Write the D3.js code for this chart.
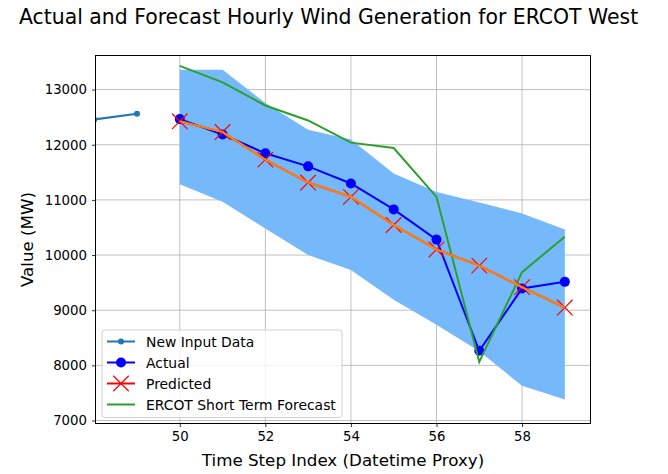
<!DOCTYPE html>
<html>
<head>
<meta charset="utf-8">
<script src="https://cdn.jsdelivr.net/npm/d3@7"></script>
<style>
	body { margin: 0; background: #fff; }
	text { font-family: "DejaVu Sans", sans-serif; fill: #000; }
</style>
</head>
<body>
<svg id="chart"></svg>
<script>
// data
const inputSteps = [48, 49];
const inputValues = [12458, 12563];

const steps = [50, 51, 52, 53, 54, 55, 56, 57, 58, 59];
const actualValues = [12465, 12185, 11845, 11608, 11298, 10828, 10280, 8265, 9395, 9514];
const predictedValues = [12425, 12230, 11730, 11315, 11055, 10545, 10102, 9808, 9418, 9048];
const ercotValues = [13430, 13132, 12712, 12440, 12038, 11940, 11055, 8062, 9690, 10332];
const bandUpper = [13358, 13358, 12755, 12272, 12095, 11478, 11145, 10955, 10755, 10465];
const bandLower = [11285, 10965, 10482, 10002, 9730, 9188, 8736, 8255, 7632, 7380];

const xTicks = [50, 52, 54, 56, 58];
const yTicks = [7000, 8000, 9000, 10000, 11000, 12000, 13000];

const width = 668,
	height = 474;
const margin = { top: 55.5, right: 77.5, bottom: 50.5, left: 95.5 };

const svg = d3.select("#chart").attr("width", width).attr("height", height);

const x = d3.scaleLinear().domain([48.03, 59.6]).range([margin.left, width - margin.right]);
const y = d3.scaleLinear().domain([6946, 13618]).range([height - margin.bottom, margin.top]);

svg.append("defs")
	.append("clipPath")
	.attr("id", "plot-clip")
	.append("rect")
	.attr("x", margin.left)
	.attr("y", margin.top)
	.attr("width", width - margin.left - margin.right)
	.attr("height", height - margin.top - margin.bottom);

// grid
const grid = svg.append("g");
grid.selectAll(".vgrid")
	.data(xTicks)
	.join("line")
	.attr("x1", (d) => x(d))
	.attr("x2", (d) => x(d))
	.attr("y1", margin.top)
	.attr("y2", height - margin.bottom)
	.attr("stroke", "#b0b0b0")
	.attr("stroke-width", 0.8);
grid.selectAll(".hgrid")
	.data(yTicks)
	.join("line")
	.attr("x1", margin.left)
	.attr("x2", width - margin.right)
	.attr("y1", (d) => y(d))
	.attr("y2", (d) => y(d))
	.attr("stroke", "#b0b0b0")
	.attr("stroke-width", 0.8);

const plot = svg.append("g").attr("clip-path", "url(#plot-clip)");

// confidence band
const band = d3
	.area()
	.x((d, i) => x(steps[i]))
	.y0((d, i) => y(bandLower[i]))
	.y1((d) => y(d));
plot.append("path").datum(bandUpper).attr("d", band).attr("fill", "#76b9fb");

const line = (xs, ys) =>
	d3
		.line()
		.x((d, i) => x(xs[i]))
		.y((d) => y(d))(ys);

// new input data
plot.append("path")
	.attr("d", line(inputSteps, inputValues))
	.attr("fill", "none")
	.attr("stroke", "#1f77b4")
	.attr("stroke-width", 2);
plot.selectAll(".inp")
	.data(inputValues)
	.join("circle")
	.attr("cx", (d, i) => x(inputSteps[i]))
	.attr("cy", (d) => y(d))
	.attr("r", 3)
	.attr("fill", "#1f77b4");

// actual
plot.append("path")
	.attr("d", line(steps, actualValues))
	.attr("fill", "none")
	.attr("stroke", "#0000ff")
	.attr("stroke-width", 2);
plot.selectAll(".act")
	.data(actualValues)
	.join("circle")
	.attr("cx", (d, i) => x(steps[i]))
	.attr("cy", (d) => y(d))
	.attr("r", 5)
	.attr("fill", "#0000ff");

// predicted
plot.append("path")
	.attr("d", line(steps, predictedValues))
	.attr("fill", "none")
	.attr("stroke", "#ff0000")
	.attr("stroke-width", 2);
const cross = d3.symbol().type(d3.symbolX).size(160);
plot.selectAll(".pred")
	.data(predictedValues)
	.join("path")
	.attr("d", cross)
	.attr("transform", (d, i) => `translate(${x(steps[i])},${y(d)})`)
	.attr("fill", "none")
	.attr("stroke", "#ff0000")
	.attr("stroke-width", 1.2);

// ercot forecast
plot.append("path")
	.attr("d", line(steps, ercotValues))
	.attr("fill", "none")
	.attr("stroke", "#2ca02c")
	.attr("stroke-width", 2);

// orange overlay of prediction
plot.append("path")
	.attr("d", line(steps, predictedValues))
	.attr("fill", "none")
	.attr("stroke", "#ff7f0e")
	.attr("stroke-width", 2.2);

// axes
const xAxis = d3.axisBottom(x).tickValues(xTicks).tickSize(3.5).tickPadding(5);
const yAxis = d3.axisLeft(y).tickValues(yTicks).tickSize(3.5).tickPadding(5).tickFormat(d3.format("d"));

const gx = svg.append("g").attr("transform", `translate(0,${height - margin.bottom})`).call(xAxis);
const gy = svg.append("g").attr("transform", `translate(${margin.left},0)`).call(yAxis);
[gx, gy].forEach((g) => {
	g.select(".domain").remove();
	g.selectAll("line").attr("stroke", "#000").attr("stroke-width", 0.8);
	g.selectAll("text").style("font-size", "13.3px").style("font-family", "DejaVu Sans");
});

// frame
svg.append("rect")
	.attr("x", margin.left)
	.attr("y", margin.top)
	.attr("width", width - margin.left - margin.right)
	.attr("height", height - margin.top - margin.bottom)
	.attr("fill", "none")
	.attr("stroke", "#000")
	.attr("stroke-width", 1);

// titles
svg.append("text")
	.attr("x", 19)
	.attr("y", 24)
	.style("font-size", "20.4px")
	.text("Actual and Forecast Hourly Wind Generation for ERCOT West");

svg.append("text")
	.attr("x", (margin.left + width - margin.right) / 2)
	.attr("y", 466)
	.attr("text-anchor", "middle")
	.style("font-size", "16.7px")
	.text("Time Step Index (Datetime Proxy)");

svg.append("text")
	.attr("transform", `translate(33,${(margin.top + height - margin.bottom) / 2}) rotate(-90)`)
	.attr("text-anchor", "middle")
	.style("font-size", "16.7px")
	.text("Value (MW)");

// legend
const legendLabels = ["New Input Data", "Actual", "Predicted", "ERCOT Short Term Forecast"];
const legendColors = ["#1f77b4", "#0000ff", "#ff0000", "#2ca02c"];
const lg = svg.append("g").attr("transform", "translate(102,330)");
lg.append("rect")
	.attr("width", 240)
	.attr("height", 87.5)
	.attr("rx", 3)
	.attr("fill", "#fff")
	.attr("fill-opacity", 0.8)
	.attr("stroke", "#d0d0d0")
	.attr("stroke-width", 1);
legendLabels.forEach((label, i) => {
	const cy = 11.5 + i * 21;
	const row = lg.append("g").attr("transform", `translate(0,${cy})`);
	row.append("line")
		.attr("x1", 5)
		.attr("x2", 33)
		.attr("stroke", legendColors[i])
		.attr("stroke-width", 2);
	if (i === 0) row.append("circle").attr("cx", 19).attr("r", 3).attr("fill", legendColors[i]);
	if (i === 1) row.append("circle").attr("cx", 19).attr("r", 5).attr("fill", legendColors[i]);
	if (i === 2)
		row.append("path")
			.attr("d", cross)
			.attr("transform", "translate(19,0)")
			.attr("fill", "none")
			.attr("stroke", legendColors[i])
			.attr("stroke-width", 1.2);
	row.append("text")
		.attr("x", 44)
		.attr("y", 5)
		.style("font-size", "13.9px")
		.text(label);
});
</script>
</body>
</html>
